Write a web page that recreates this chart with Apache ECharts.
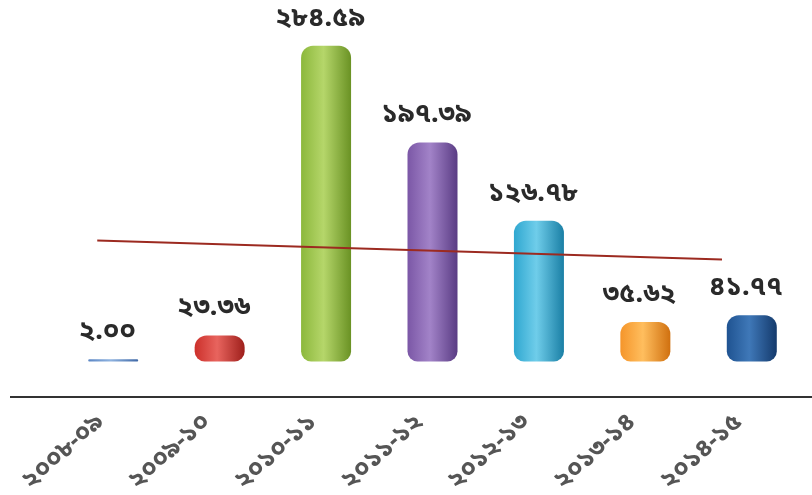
<!DOCTYPE html>
<html><head><meta charset="utf-8">
<script src="https://cdn.jsdelivr.net/npm/echarts@6/dist/echarts.min.js"></script>
<style>html,body{margin:0;padding:0;background:#fff}#c{width:812px;height:495px}</style>
</head><body><div id="c"></div>
<script>
const categories = ['২০০৮-০৯','২০০৯-১০','২০১০-১১','২০১১-১২','২০১২-১৩','২০১৩-১৪','২০১৪-১৫'];
const values = [2.00, 23.36, 284.59, 197.39, 126.78, 35.62, 41.77];
const valueLabels = ['২.০০','২৩.৩৬','২৮৪.৫৯','১৯৭.৩৯','১২৬.৭৮','৩৫.৬২','৪১.৭৭'];
const barColors = [
  ['#8fb3e0','#5b86c4','#3f68a6'],
  ['#e8645e','#cc302b','#9e1f1b'],
  ['#b5d66a','#8cb83c','#6a9224'],
  ['#a283c8','#7b57a6','#5a3c84'],
  ['#6fcdea','#2fa7d0','#1a7fa5'],
  ['#ffbe5e','#f5952a','#d0700f'],
  ['#3f78b8','#1f5391','#143a6c']
];
const trendX = [-0.15, 5.72];
const trendY = [109, 92];

const chart = echarts.init(document.getElementById('c'));
const font = "'Noto Sans Bengali','Noto Sans','DejaVu Sans',sans-serif";
chart.setOption({
  animation:false,
  backgroundColor:'#fff',
  grid:{left:60,right:7,top:1,bottom:98,containLabel:false,outerBoundsMode:'none'},
  xAxis:[{
    type:'category',data:categories,
    axisLine:{show:false},axisTick:{show:false},
    axisLabel:{rotate:42,color:'#555',fontSize:25,fontWeight:'bold',fontFamily:font,margin:12,
      padding:[0,16,0,0]}
  },{
    type:'value',min:-0.5,max:6.5,show:false
  }],
  yAxis:{type:'value',min:-32,max:325,show:false,splitLine:{show:false}},
  graphic:[{type:'line',shape:{x1:10,y1:397,x2:812,y2:397},style:{stroke:'#333',lineWidth:2}}],
  series:[{
    type:'bar',barWidth:50,
    data:values.map((v,i)=>({value:v,itemStyle:{
      color:new echarts.graphic.LinearGradient(0,0,1,0,[
        {offset:0,color:barColors[i][1]},
        {offset:0.45,color:barColors[i][0]},
        {offset:1,color:barColors[i][2]}]),
      borderRadius:[12,12,10,10]}})),
    label:{show:true,position:'top',distance:12,offset:[-6,0],
      formatter:p=>valueLabels[p.dataIndex],
      color:'#2a2a2a',fontSize:27,fontWeight:'bold',fontFamily:font}
  },{
    type:'line',xAxisIndex:1,symbol:'none',
    data:trendX.map((x,i)=>[x,trendY[i]]),
    lineStyle:{color:'#9c2a20',width:2}
  }]
});
</script></body></html>
